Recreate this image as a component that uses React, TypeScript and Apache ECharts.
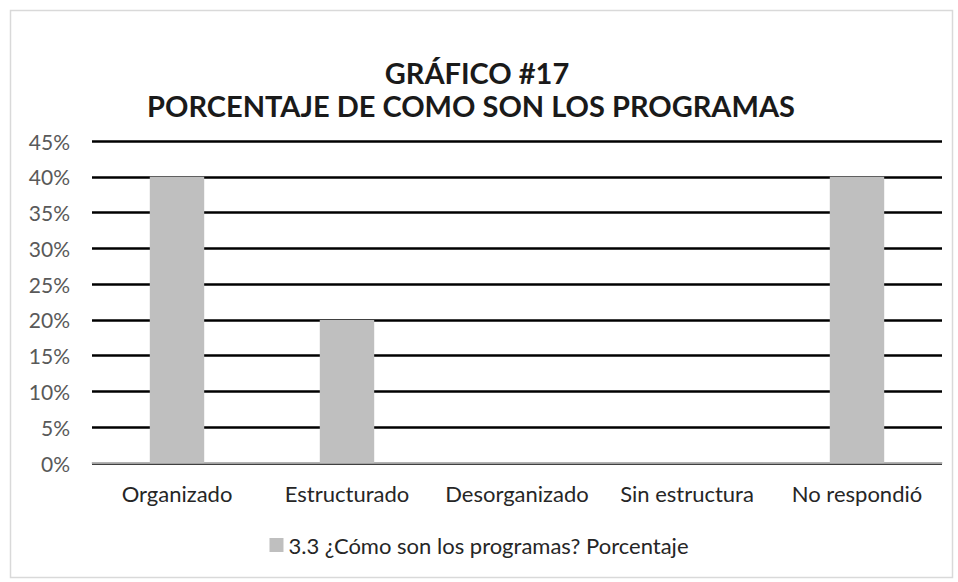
import React, { useEffect, useRef } from "react";
import * as echarts from "echarts";

const categories = ["Organizado", "Estructurado", "Desorganizado", "Sin estructura", "No respondió"];
const values = [0.4, 0.2, 0, 0, 0.4];
const seriesName = "3.3 ¿Cómo son los programas? Porcentaje";
const titleLines = ["GRÁFICO #17", "PORCENTAJE DE COMO SON LOS PROGRAMAS"];

const FONT = "Lato, 'Open Sans', sans-serif";

export default function App() {
  const ref = useRef<HTMLDivElement>(null);
  useEffect(() => {
    if (!ref.current) return;
    const chart = echarts.init(ref.current, undefined, { renderer: "svg" });
    chart.setOption({
      animation: false,
      backgroundColor: "#ffffff",
      textStyle: { fontFamily: FONT },
      graphic: [
        {
          type: "rect",
          shape: { x: 10.5, y: 10.5, width: 942, height: 567 },
          style: { fill: "none", stroke: "#d9d9d9", lineWidth: 1.5 },
          silent: true,
        },
        {
          type: "text",
          x: 477,
          y: 72,
          style: {
            text: titleLines[0],
            font: `bold 29px ${FONT}`,
            fill: "#1a1a1a",
            textAlign: "center",
            textVerticalAlign: "middle",
          },
        },
        {
          type: "text",
          x: 471,
          y: 105,
          style: {
            text: titleLines[1],
            font: `bold 29px ${FONT}`,
            fill: "#1a1a1a",
            textAlign: "center",
            textVerticalAlign: "middle",
          },
        },
      ],
      legend: {
        bottom: 21,
        left: "center",
        itemWidth: 14,
        itemHeight: 14,
        icon: "rect",
        textStyle: { fontSize: 22, color: "#262626", fontFamily: FONT },
        data: [seriesName],
      },
      grid: { left: 92, right: 16, top: 141, bottom: 119, containLabel: false },
      xAxis: {
        type: "category",
        data: categories,
        axisLine: { lineStyle: { color: "#d9d9d9", width: 1.5 } },
        axisTick: { show: false },
        axisLabel: {
          fontSize: 22,
          color: "#262626",
          margin: 19,
          interval: 0,
          hideOverlap: false,
          fontFamily: FONT,
        },
      },
      yAxis: {
        type: "value",
        min: 0,
        max: 0.45,
        interval: 0.05,
        axisLine: { show: false },
        axisTick: { show: false },
        axisLabel: {
          fontSize: 21,
          color: "#595959",
          margin: 22,
          fontFamily: FONT,
          formatter: (v: number) => `${Math.round(v * 100)}%`,
        },
        splitLine: { lineStyle: { color: "#000000", width: 2.5 } },
      },
      series: [
        {
          name: seriesName,
          type: "bar",
          data: values,
          barWidth: "32%",
          itemStyle: { color: "#bfbfbf" },
        },
      ],
    });
    return () => chart.dispose();
  }, []);
  return (
    <div
      ref={ref}
      style={{ position: "fixed", left: 0, top: 0, width: 958, height: 582 }}
    />
  );
}
